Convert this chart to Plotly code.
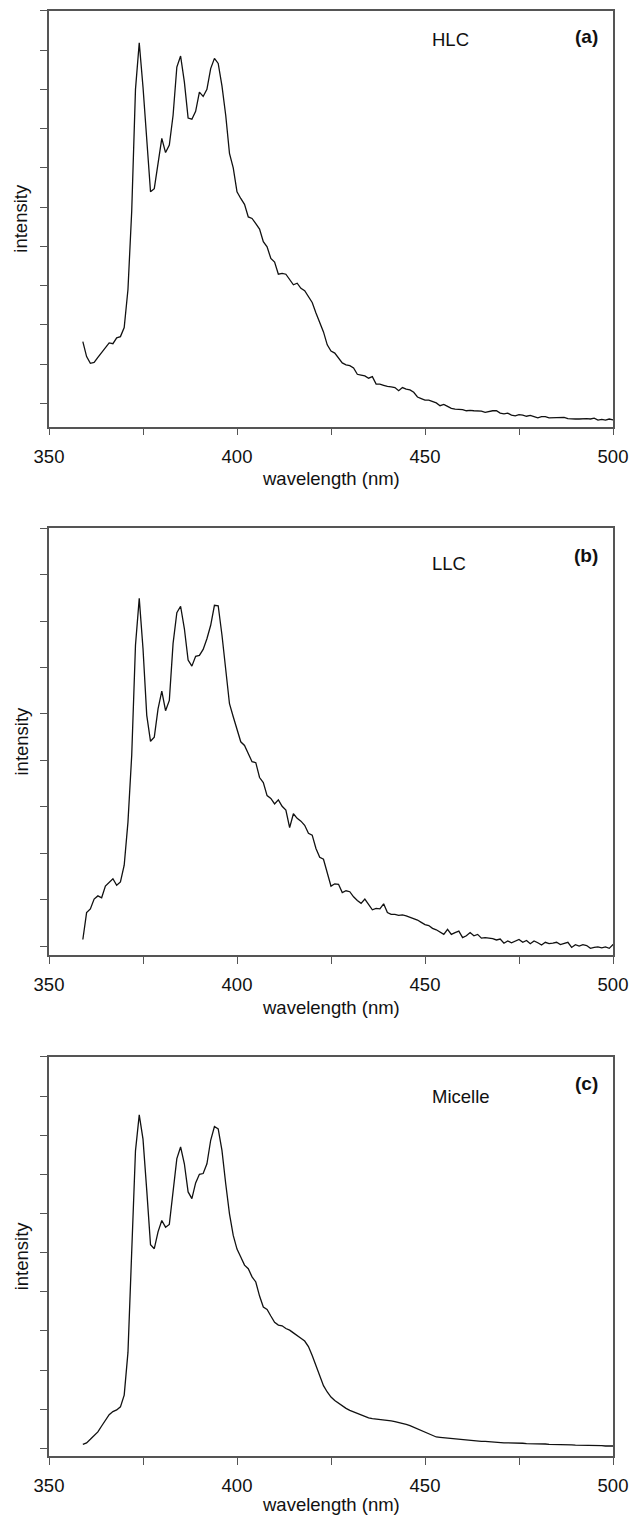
import plotly.graph_objects as go

# wavelength grid (nm)
wavelength = list(range(359, 502))

# intensities (arbitrary units, one y-tick = 1 unit)
hlc = [1.57,1.19,1.02,1.04,1.17,1.30,1.42,1.54,1.52,1.67,
       1.70,1.93,2.90,4.90,8.00,9.19,8.06,6.58,5.39,5.47,
       6.15,6.75,6.39,6.58,7.34,8.57,8.85,8.19,7.27,7.24,
       7.44,7.93,7.82,8.00,8.53,8.79,8.66,8.09,7.34,6.37,
       6.00,5.39,5.22,5.07,4.75,4.71,4.58,4.44,4.12,3.99,
       3.69,3.60,3.29,3.31,3.29,3.17,3.02,3.06,2.93,2.87,
       2.73,2.57,2.30,2.06,1.82,1.49,1.33,1.28,1.14,1.03,
       0.98,0.96,0.90,0.74,0.72,0.70,0.64,0.68,0.49,0.49,
       0.46,0.43,0.42,0.40,0.32,0.40,0.36,0.34,0.28,0.16,
       0.12,0.08,0.08,0.05,0.01,-0.06,-0.03,-0.08,-0.13,-0.15,
       -0.15,-0.16,-0.19,-0.18,-0.19,-0.19,-0.20,-0.23,-0.21,-0.19,
       -0.19,-0.25,-0.27,-0.25,-0.30,-0.32,-0.29,-0.30,-0.33,-0.31,
       -0.34,-0.37,-0.34,-0.34,-0.37,-0.37,-0.36,-0.37,-0.36,-0.39,
       -0.40,-0.40,-0.40,-0.39,-0.39,-0.40,-0.38,-0.43,-0.41,-0.43,
       -0.40,-0.42,-0.39]

llc = [0.14,0.72,0.80,1.01,1.08,1.04,1.29,1.36,1.45,1.31,
       1.38,1.74,2.67,4.11,6.48,7.49,6.41,4.97,4.41,4.50,
       5.11,5.49,5.07,5.29,6.52,7.18,7.32,6.84,6.16,6.03,
       6.24,6.26,6.39,6.62,6.91,7.34,7.33,6.70,5.98,5.22,
       4.94,4.65,4.40,4.32,4.15,3.97,3.95,3.63,3.52,3.24,
       3.18,3.06,3.15,3.01,2.93,2.55,2.85,2.75,2.69,2.60,
       2.43,2.39,2.10,1.91,1.87,1.58,1.29,1.34,1.33,1.15,
       1.19,1.17,1.06,0.98,0.92,1.01,0.88,0.78,0.81,0.80,
       0.91,0.72,0.68,0.68,0.66,0.67,0.65,0.62,0.60,0.56,
       0.51,0.46,0.44,0.38,0.35,0.30,0.25,0.36,0.25,0.29,
       0.32,0.18,0.22,0.29,0.22,0.25,0.17,0.18,0.17,0.16,
       0.13,0.15,0.06,0.11,0.07,0.10,0.14,0.08,0.12,0.05,
       0.11,0.07,0.02,0.08,0.05,0.06,0.08,0.03,0.05,0.08,
       -0.03,0.03,0.00,0.03,0.01,-0.05,-0.03,-0.02,-0.04,-0.02,
       -0.05,0.03,0.06]

micelle = [0.10,0.14,0.23,0.32,0.42,0.57,0.73,0.86,0.94,0.98,
           1.06,1.36,2.45,5.00,7.60,8.52,7.90,6.59,5.20,5.10,
           5.53,5.82,5.65,5.72,6.59,7.40,7.70,7.27,6.55,6.38,
           6.78,7.00,7.02,7.27,7.87,8.22,8.16,7.61,6.76,5.99,
           5.44,5.09,4.89,4.68,4.59,4.38,4.25,3.89,3.61,3.55,
           3.38,3.22,3.15,3.13,3.06,3.02,2.95,2.87,2.81,2.74,
           2.60,2.37,2.12,1.85,1.60,1.44,1.31,1.22,1.15,1.08,
           1.02,0.97,0.93,0.89,0.86,0.82,0.78,0.76,0.75,0.73,
           0.72,0.71,0.70,0.68,0.66,0.63,0.61,0.58,0.54,0.49,
           0.45,0.41,0.36,0.32,0.29,0.28,0.27,0.26,0.25,0.24,
           0.23,0.22,0.21,0.21,0.20,0.19,0.18,0.18,0.17,0.16,
           0.16,0.15,0.14,0.14,0.14,0.13,0.13,0.13,0.12,0.12,
           0.12,0.11,0.11,0.11,0.10,0.10,0.10,0.09,0.09,0.09,
           0.09,0.08,0.08,0.08,0.08,0.07,0.07,0.07,0.07,0.06,
           0.06,0.06,0.06]

series = [hlc, llc, micelle]
sample_labels = ["HLC", "LLC", "Micelle"]
panel_tags = ["(a)", "(b)", "(c)"]

x_tickvals = [350, 375, 400, 425, 450, 475, 500]
x_ticktext = ["350", "", "400", "", "450", "", "500"]
x_title = "wavelength (nm)"
y_title = "intensity"

W, H = 630, 1515
# panel frames in pixels (left, right, top, bottom)
frames = [(49, 613, 10.7, 426.7), (49, 613, 527.7, 955.3), (49, 613, 1056.7, 1456)]
y_ranges = [[-0.596, 10.005], [-0.2, 9.012], [-0.196, 10.005]]
label_y = [40, 563, 1096]
tag_y = [37, 555, 1083]
xtitle_off = [52, 52, 48]

FONT = "Liberation Sans, Arial, Helvetica, sans-serif"
AX = "#555555"
TXT = 18.5

fig = go.Figure()
layout = dict(width=W, height=H, margin=dict(l=0, r=0, t=0, b=0),
              paper_bgcolor="white", plot_bgcolor="white", showlegend=False,
              font=dict(family=FONT, size=TXT, color="#111"))
annotations = []

def px2x(p):
    return p / W

def py2y(p):
    return 1 - p / H

for i, (ys, lab, tag) in enumerate(zip(series, sample_labels, panel_tags)):
    n = i + 1
    xa = "x" if n == 1 else f"x{n}"
    ya = "y" if n == 1 else f"y{n}"
    xk = "xaxis" if n == 1 else f"xaxis{n}"
    yk = "yaxis" if n == 1 else f"yaxis{n}"
    l, r, t, b = frames[i]
    fig.add_trace(go.Scatter(x=wavelength, y=ys, mode="lines",
                             line=dict(color="#111", width=1.3),
                             xaxis=xa, yaxis=ya, hoverinfo="x+y"))
    layout[xk] = dict(domain=[px2x(l), px2x(r)], anchor=ya, range=[350, 500],
                      tickvals=x_tickvals, ticktext=x_ticktext,
                      ticks="outside", ticklen=7, tickwidth=1.2, tickcolor=AX,
                      showline=True, linecolor=AX, linewidth=1.5, mirror=True,
                      showgrid=False, zeroline=False, automargin=False,
                      ticklabelstandoff=5,
                      tickfont=dict(family=FONT, size=TXT, color="#111"))
    layout[yk] = dict(domain=[py2y(b), py2y(t)], anchor=xa, range=y_ranges[i],
                      tick0=0, dtick=1, showticklabels=False,
                      ticks="outside", ticklen=7, tickwidth=1.2, tickcolor=AX,
                      showline=True, linecolor=AX, linewidth=1.5, mirror=True,
                      showgrid=False, zeroline=False, automargin=False)
    # short ticks on top and right edges
    tx = 3 + i * 2 + 1
    ty = tx + 1
    layout[f"xaxis{tx}"] = dict(overlaying=xa, side="top", anchor=ya, range=[350, 500],
                                tickvals=x_tickvals, showticklabels=False,
                                ticks="outside", ticklen=3, tickwidth=1.2, tickcolor=AX,
                                showline=False, showgrid=False, zeroline=False)
    layout[f"yaxis{ty}"] = dict(overlaying=ya, side="right", anchor=xa, range=y_ranges[i],
                                tick0=0, dtick=1, showticklabels=False,
                                ticks="outside", ticklen=3, tickwidth=1.2, tickcolor=AX,
                                showline=False, showgrid=False, zeroline=False)
    annotations.append(dict(xref="paper", yref="paper", x=px2x(430), y=py2y(label_y[i]),
                            text=lab, showarrow=False, xanchor="left", yanchor="middle",
                            font=dict(family=FONT, size=TXT, color="#111")))
    annotations.append(dict(xref="paper", yref="paper", x=px2x(600), y=py2y(tag_y[i]),
                            text=f"<b>{tag}</b>", showarrow=False, xanchor="right", yanchor="middle",
                            font=dict(family=FONT, size=19, color="#111")))
    annotations.append(dict(xref="paper", yref="paper", x=px2x((l + r) / 2),
                            y=py2y(b + xtitle_off[i]),
                            text=x_title, showarrow=False, xanchor="center", yanchor="middle",
                            font=dict(family=FONT, size=TXT, color="#111")))
    annotations.append(dict(xref="paper", yref="paper", x=px2x(21), y=py2y((t + b) / 2),
                            text=y_title, textangle=-90, showarrow=False,
                            xanchor="center", yanchor="middle",
                            font=dict(family=FONT, size=TXT, color="#111")))

layout["annotations"] = annotations
fig.update_layout(**layout)
fig.write_html("out.html",
               config={"displayModeBar": False},
               post_script="document.body.style.margin='0';document.body.style.padding='0';")
